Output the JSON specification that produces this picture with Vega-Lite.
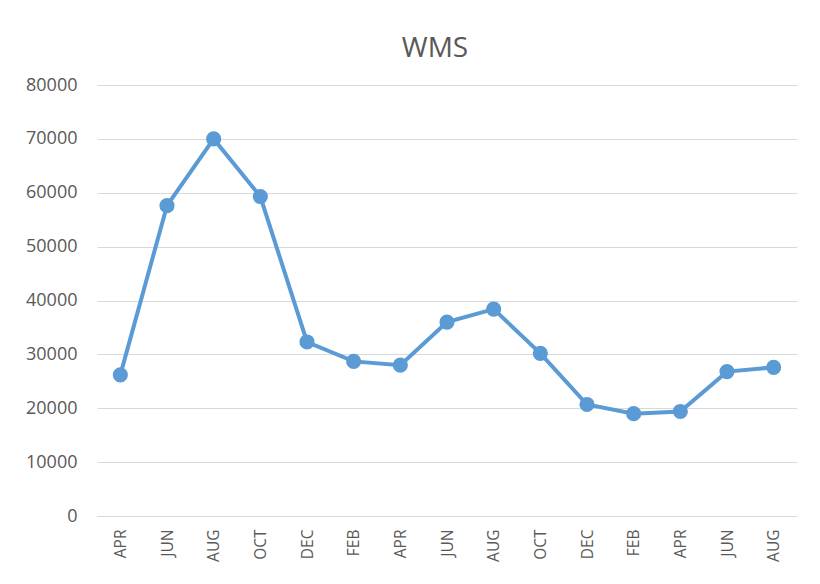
{
  "$schema": "https://vega.github.io/schema/vega-lite/v6.json",
  "autosize": {"type": "none"},
  "width": 700,
  "height": 431,
  "padding": {"left": 97, "top": 85, "right": 23, "bottom": 68},
  "background": "white",
  "title": {"text": "WMS", "font": "Open Sans", "fontSize": 28, "fontWeight": "normal", "color": "#595959", "anchor": "middle", "offset": 13, "dx": -12},
  "data": {"values": [
    {"period": "APR_1", "value": 26200},
    {"period": "JUN_1", "value": 57600},
    {"period": "AUG_1", "value": 70000},
    {"period": "OCT_1", "value": 59300},
    {"period": "DEC_1", "value": 32300},
    {"period": "FEB_2", "value": 28700},
    {"period": "APR_2", "value": 28000},
    {"period": "JUN_2", "value": 36000},
    {"period": "AUG_2", "value": 38400},
    {"period": "OCT_2", "value": 30200},
    {"period": "DEC_2", "value": 20700},
    {"period": "FEB_3", "value": 19000},
    {"period": "APR_3", "value": 19400},
    {"period": "JUN_3", "value": 26800},
    {"period": "AUG_3", "value": 27600}
  ]},
  "config": {"view": {"stroke": null}},
  "encoding": {
    "x": {"field": "period", "type": "ordinal", "sort": null, "title": null,
      "scale": {"paddingInner": 0, "paddingOuter": 0.5},
      "axis": {"labelExpr": "slice(datum.label, 0, 3)", "labelAngle": -90, "labelFont": "Open Sans", "labelFontSize": 15.5, "labelColor": "#595959", "labelPadding": 13, "ticks": false, "domainColor": "#d9d9d9", "domainWidth": 1, "grid": false}},
    "y": {"field": "value", "type": "quantitative", "title": null,
      "scale": {"domain": [0, 80000], "nice": false},
      "axis": {"values": [0, 10000, 20000, 30000, 40000, 50000, 60000, 70000, 80000], "format": "d", "labelFont": "Open Sans", "labelFontSize": 18, "labelColor": "#595959", "labelPadding": 20, "ticks": false, "domain": false, "gridColor": "#d9d9d9", "gridWidth": 1}}
  },
  "layer": [
    {"mark": {"type": "line", "color": "#5b9bd5", "strokeWidth": 4}},
    {"mark": {"type": "point", "filled": true, "opacity": 1, "color": "#5b9bd5", "size": 230}}
  ]
}
